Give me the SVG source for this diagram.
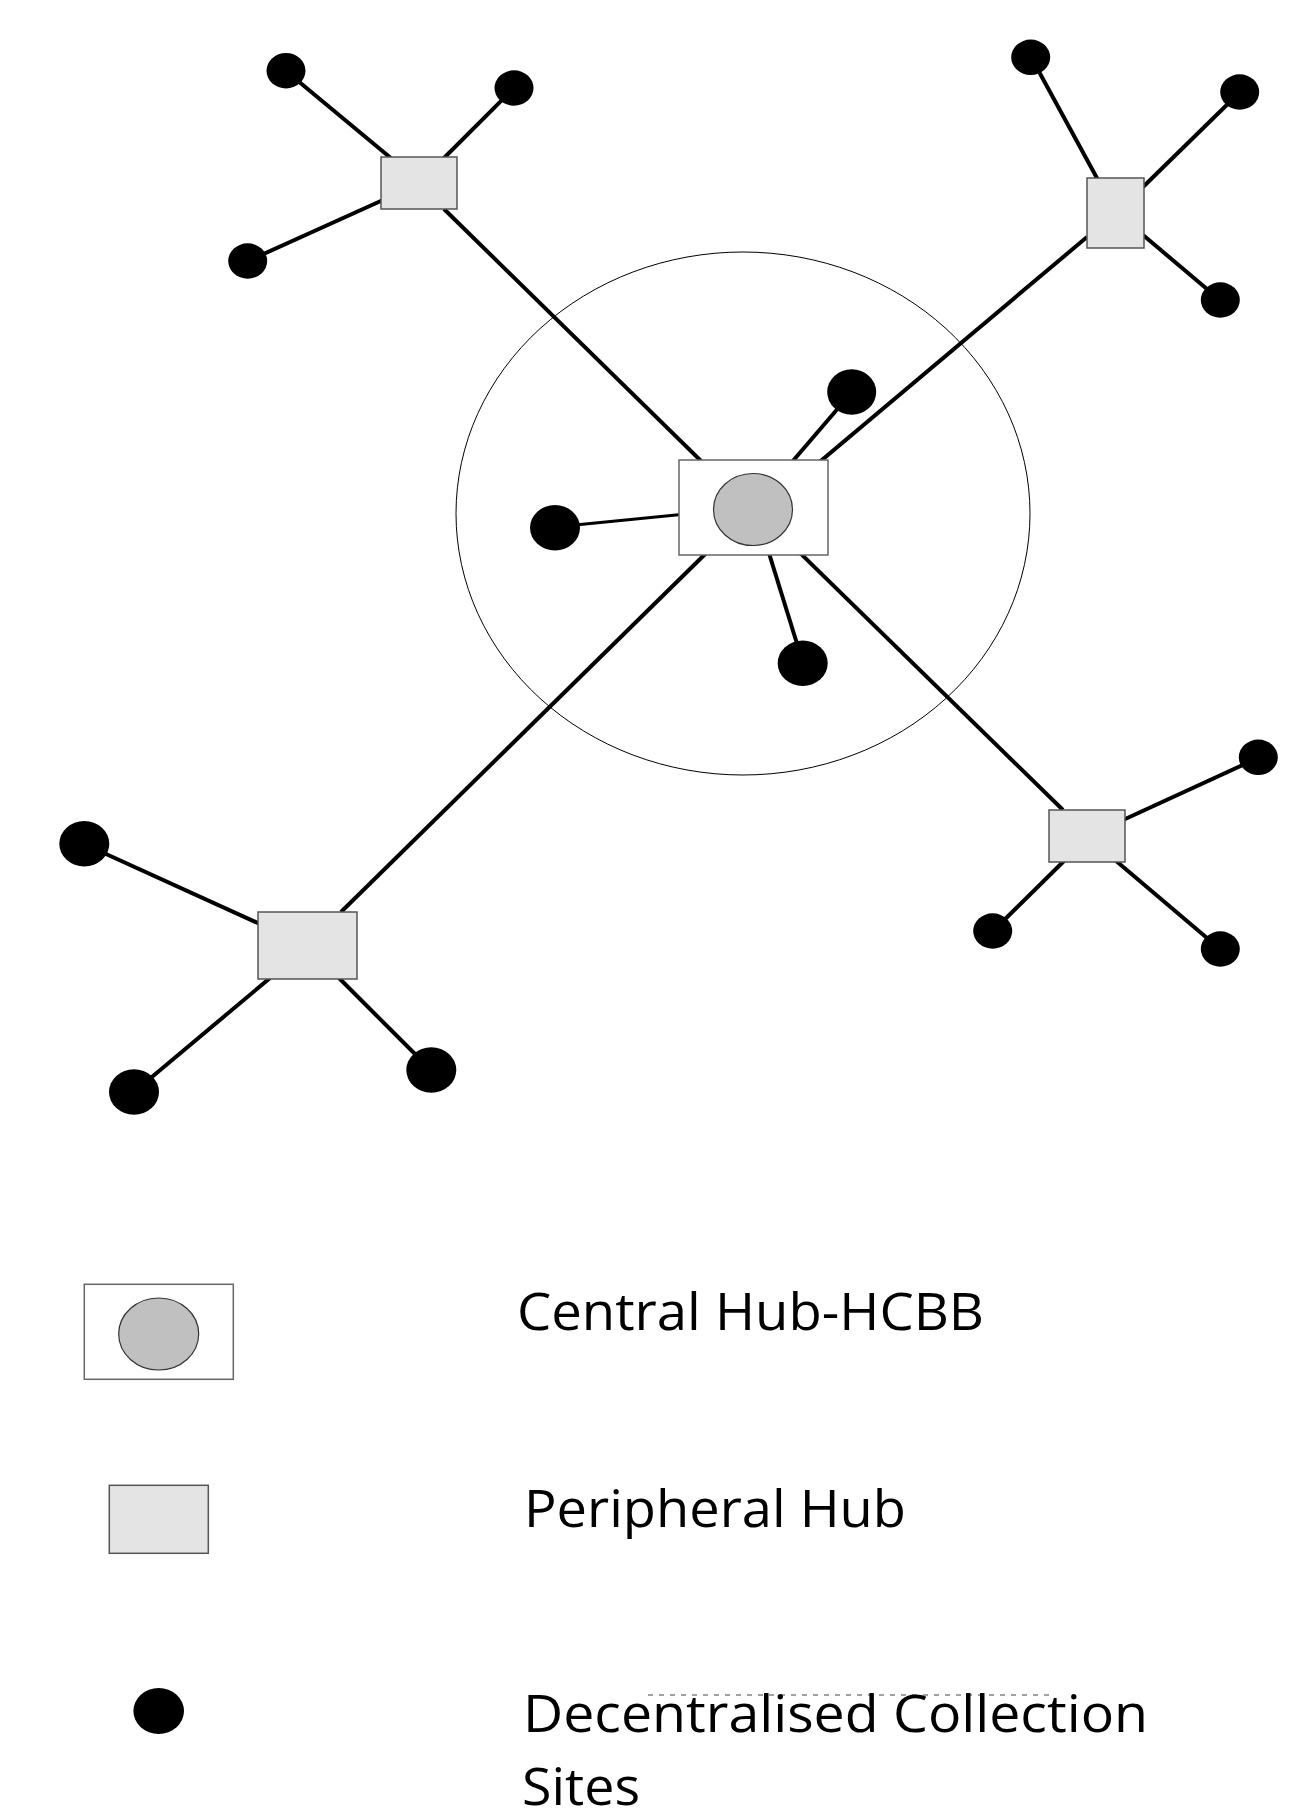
<svg xmlns="http://www.w3.org/2000/svg" width="1291" height="1818" viewBox="0 0 1291 1818">
<style>
.ln{stroke:#000;stroke-width:4;fill:none}
.dot{fill:#000}
.ph{fill:#e4e4e4;stroke:#555;stroke-width:1.5}
.ch{fill:#fff;stroke:#666;stroke-width:1.5}
.ce{fill:#c0c0c0;stroke:#333;stroke-width:1.2}
.lbl{font-family:"Open Sans","Liberation Sans",sans-serif;font-size:51px;fill:#000}
</style>
<rect width="1291" height="1818" fill="#fff"/>
<g id="connectors">
<line class="ln" x1="286" y1="71" x2="392" y2="159"/>
<line class="ln" x1="514" y1="88" x2="443" y2="159"/>
<line class="ln" x1="248" y1="261" x2="383" y2="200"/>
<line class="ln" x1="444" y1="209" x2="750" y2="509"/>
<line class="ln" x1="1031" y1="57" x2="1098" y2="180"/>
<line class="ln" x1="1240" y1="92" x2="1143" y2="187"/>
<line class="ln" x1="1220" y1="300" x2="1143" y2="235"/>
<line class="ln" x1="1087" y1="237" x2="753" y2="518"/>
<line class="ln" x1="341" y1="912" x2="750" y2="510"/>
<line class="ln" x1="1063" y1="810" x2="753" y2="507"/>
<line class="ln" style="stroke-width:3" x1="555" y1="527" x2="681" y2="514.5"/>
<line class="ln" x1="852" y1="392" x2="792" y2="462"/>
<line class="ln" x1="768" y1="550" x2="803" y2="663"/>
<line class="ln" x1="84" y1="844" x2="260" y2="924"/>
<line class="ln" x1="134" y1="1092" x2="270" y2="978"/>
<line class="ln" x1="431" y1="1070" x2="339" y2="978"/>
<line class="ln" x1="1258" y1="758" x2="1123" y2="820"/>
<line class="ln" x1="993" y1="931" x2="1065" y2="860"/>
<line class="ln" x1="1220" y1="949" x2="1115" y2="860"/>
</g>
<g id="region">
<ellipse cx="743" cy="513.5" rx="287" ry="261.5" fill="none" stroke="#000" stroke-width="1"/>
</g>
<g id="central-hub">
<rect class="ch" x="679" y="460" width="149" height="95"/>
<ellipse class="ce" cx="753" cy="509.5" rx="39.5" ry="36"/>
</g>
<g id="hub-nw"><rect class="ph" x="381" y="157" width="76" height="52"/></g>
<g id="hub-ne"><rect class="ph" x="1087" y="178" width="57" height="70"/></g>
<g id="hub-sw"><rect class="ph" x="258" y="912" width="99" height="67"/></g>
<g id="hub-se"><rect class="ph" x="1049" y="810" width="76" height="52"/></g>
<g id="site-nw-1"><ellipse class="dot" cx="286" cy="70.7" rx="19.5" ry="17.7"/></g>
<g id="site-nw-2"><ellipse class="dot" cx="514" cy="88" rx="19.5" ry="17.7"/></g>
<g id="site-nw-3"><ellipse class="dot" cx="247.7" cy="261" rx="19.5" ry="17.7"/></g>
<g id="site-ne-1"><ellipse class="dot" cx="1030.7" cy="57.3" rx="19.5" ry="17.7"/></g>
<g id="site-ne-2"><ellipse class="dot" cx="1239.7" cy="92" rx="19.5" ry="17.7"/></g>
<g id="site-ne-3"><ellipse class="dot" cx="1220.3" cy="300" rx="19.5" ry="17.7"/></g>
<g id="site-c-1"><ellipse class="dot" cx="555" cy="527.7" rx="25" ry="22.7"/></g>
<g id="site-c-2"><ellipse class="dot" cx="851.7" cy="392" rx="24.5" ry="22.7"/></g>
<g id="site-c-3"><ellipse class="dot" cx="802.7" cy="663.3" rx="25" ry="22.7"/></g>
<g id="site-sw-1"><ellipse class="dot" cx="84.3" cy="843.7" rx="25" ry="22.7"/></g>
<g id="site-sw-2"><ellipse class="dot" cx="134" cy="1092" rx="25" ry="22.7"/></g>
<g id="site-sw-3"><ellipse class="dot" cx="431.3" cy="1070" rx="25" ry="22.7"/></g>
<g id="site-se-1"><ellipse class="dot" cx="1258.3" cy="757.3" rx="19.5" ry="17.7"/></g>
<g id="site-se-2"><ellipse class="dot" cx="992.7" cy="931" rx="19.5" ry="17.7"/></g>
<g id="site-se-3"><ellipse class="dot" cx="1220.3" cy="949" rx="19.5" ry="17.7"/></g>
<g id="legend">
<rect class="ch" x="84.3" y="1284.3" width="149" height="95"/>
<ellipse class="ce" cx="158.7" cy="1334" rx="40" ry="36"/>
<rect class="ph" x="109.3" y="1485.3" width="99" height="68"/>
<ellipse class="dot" cx="158.7" cy="1711" rx="25.3" ry="23"/>
<text class="lbl" x="517" y="1330" textLength="467" lengthAdjust="spacingAndGlyphs">Central Hub-HCBB</text>
<text class="lbl" x="524" y="1527" textLength="382" lengthAdjust="spacingAndGlyphs">Peripheral Hub</text>
<line x1="648" y1="1695" x2="1053" y2="1695" stroke="#444" stroke-width="1" stroke-dasharray="5 6"/>
<text class="lbl" x="523" y="1732" textLength="625" lengthAdjust="spacingAndGlyphs">Decentralised Collection</text>
<text class="lbl" x="522" y="1805" textLength="118" lengthAdjust="spacingAndGlyphs">Sites</text>
</g>
</svg>
